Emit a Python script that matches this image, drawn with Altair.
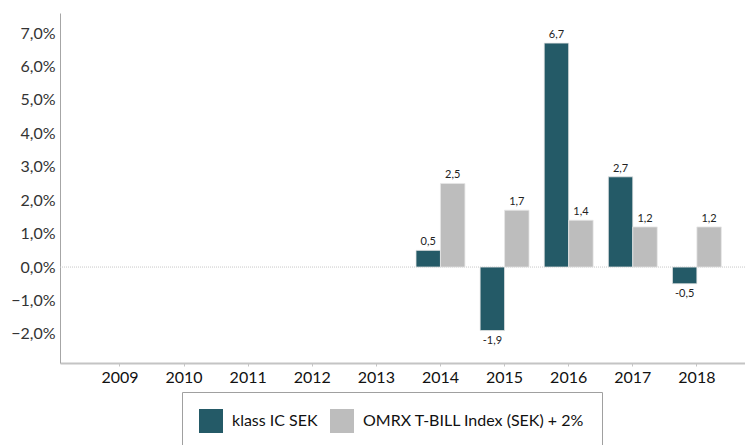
import altair as alt
import pandas as pd

years = [str(y) for y in range(2009, 2019)]
series = ["klass IC SEK", "OMRX T-BILL Index (SEK) + 2%"]
data_years = ["2014", "2015", "2016", "2017", "2018"]
klass_vals = [0.5, -1.9, 6.7, 2.7, -0.5]
omrx_vals = [2.5, 1.7, 1.4, 1.2, 1.2]
colors = ["#245a67", "#bdbdbd"]
y_ticks = [-2, -1, 0, 1, 2, 3, 4, 5, 6, 7]

rows = []
for yr, k, o in zip(data_years, klass_vals, omrx_vals):
    rows.append({"year": yr, "series": series[0], "value": k})
    rows.append({"year": yr, "series": series[1], "value": o})
df = pd.DataFrame(rows)
df["label"] = df["value"].map(lambda v: f"{v:.1f}".replace(".", ","))

FONT = "Lato"

x = alt.X("year:N", scale=alt.Scale(domain=years, paddingInner=0.237, paddingOuter=0.4615, align=0.6),
          axis=alt.Axis(title=None, labelAngle=0, labelFontSize=16, labelColor="#111",
                        labelFont=FONT, labelPadding=3, domainColor="#c4c4c4", domainWidth=2,
                        tickColor="#c4c4c4", tickSize=3, grid=False, labelOverlap=False))
xo = alt.XOffset("series:N", scale=alt.Scale(domain=series, paddingInner=0, paddingOuter=0))
yscale = alt.Scale(domain=[-2.87, 7.6], nice=False, zero=False)
y_axis = alt.Axis(title=None, values=y_ticks, grid=False, ticks=False, labelOverlap=False,
                  labelExpr="replace(format(datum.value, '.1f'), '.', ',') + '%'",
                  labelFontSize=16, labelColor="#333", labelFont=FONT, labelPadding=5,
                  domainColor="#a6a6a6", domainWidth=1)

base = alt.Chart(df)

bars = base.mark_bar(stroke="#e6e6e6", strokeWidth=0.8).encode(
    x=x, xOffset=xo,
    y=alt.Y("value:Q", scale=yscale, axis=y_axis),
    y2=alt.datum(0),
    color=alt.Color("series:N", scale=alt.Scale(domain=series, range=colors),
                    legend=alt.Legend(title=None, orient="none", legendX=122, legendY=379,
                                      direction="horizontal", symbolType="square", symbolSize=576,
                                      symbolStrokeWidth=0, labelFontSize=16, labelFont=FONT,
                                      labelColor="#111", labelOffset=9, columnPadding=12,
                                      strokeColor="#a0a0a0", padding=17, fillColor="white",
                                      labelLimit=300)),
)

pos_text = base.transform_filter("datum.value >= 0").mark_text(
    baseline="bottom", dy=-3, fontSize=11, font=FONT, color="#222").encode(
    x=x, xOffset=xo, y=alt.Y("value:Q", scale=yscale, axis=y_axis), text="label:N")
neg_text = base.transform_filter("datum.value < 0").mark_text(
    baseline="top", dy=4, fontSize=11, font=FONT, color="#222").encode(
    x=x, xOffset=xo, y=alt.Y("value:Q", scale=yscale, axis=y_axis), text="label:N")

zero = alt.Chart(pd.DataFrame({"value": [0]})).mark_rule(
    color="#c8c8c8", strokeDash=[1, 1], strokeWidth=1).encode(
    y=alt.Y("value:Q", scale=yscale, axis=y_axis))

chart = alt.layer(zero, bars, pos_text, neg_text).properties(
    width=685, height=350,
    autosize=alt.AutoSizeParams(type="none"),
    padding={"left": 52, "top": 5, "right": 0, "bottom": 82},
).configure_view(stroke=None).configure_axisY(labelOverlap=False)

chart.save("out.html", embed_options={"renderer": "svg", "actions": False})
